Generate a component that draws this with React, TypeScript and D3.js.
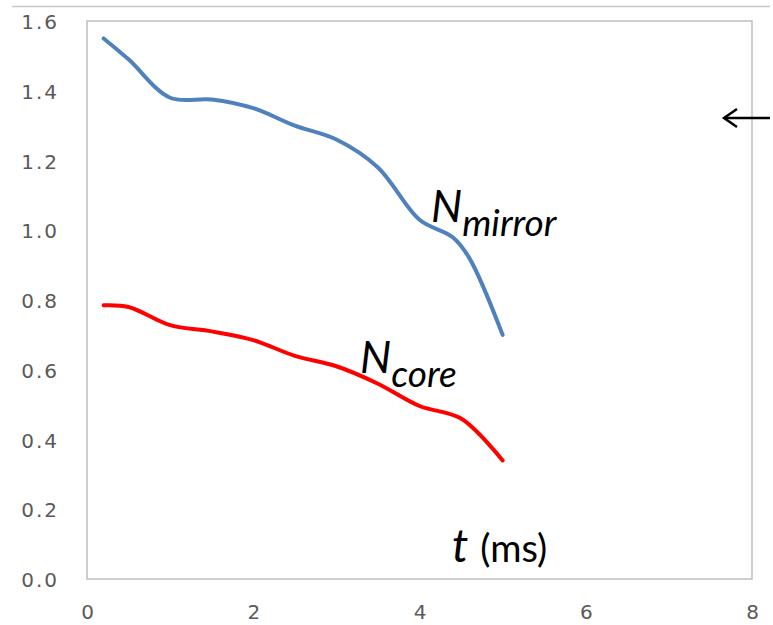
import React, { useEffect, useRef } from "react";
import * as d3 from "d3";

const mirrorT = [0.2, 0.5, 1.0, 1.5, 2.0, 2.5, 3.0, 3.5, 4.0, 4.4, 4.6, 5.0];
const mirrorN = [1.55, 1.49, 1.38, 1.375, 1.35, 1.30, 1.26, 1.18, 1.03, 0.98, 0.92, 0.70];
const coreT = [0.2, 0.5, 1.0, 1.5, 2.0, 2.5, 3.0, 3.5, 4.0, 4.5, 5.0];
const coreN = [0.785, 0.78, 0.728, 0.71, 0.685, 0.64, 0.61, 0.56, 0.496, 0.46, 0.34];
const xTicks = [0, 2, 4, 6, 8];
const yTicks = [0, 0.2, 0.4, 0.6, 0.8, 1.0, 1.2, 1.4, 1.6];

export default function App() {
  const ref = useRef<SVGSVGElement>(null);
  useEffect(() => {
    const svg = d3.select(ref.current);
    svg.selectAll("*").remove();
    const L = 87, R = 752, T = 21, B = 579;
    const x = d3.scaleLinear().domain([0, 8]).range([L, R]);
    const y = d3.scaleLinear().domain([0, 1.6]).range([B, T]);

    svg.append("line").attr("x1", 12).attr("x2", 770).attr("y1", 6.5).attr("y2", 6.5)
      .attr("stroke", "#c8c8c8").attr("stroke-width", 1.5);

    svg.append("rect").attr("x", L).attr("y", T).attr("width", R - L).attr("height", B - T)
      .attr("fill", "none").attr("stroke", "#bfbfbf").attr("stroke-width", 1.5);

    const yAxis = svg.append("g").attr("transform", `translate(${L - 28},0)`)
      .call(d3.axisLeft(y).tickValues(yTicks).tickSize(0).tickPadding(0).tickFormat(d3.format(".1f")));
    yAxis.select(".domain").remove();
    yAxis.selectAll("text").attr("font-family", "DejaVu Sans").attr("font-size", 20).attr("dy", "0.38em")
      .attr("letter-spacing", 2).attr("fill", "#595959");

    const xAxis = svg.append("g").attr("transform", `translate(0,${B + 26})`)
      .call(d3.axisBottom(x).tickValues(xTicks).tickSize(0).tickPadding(0).tickFormat(d3.format("d")));
    xAxis.select(".domain").remove();
    xAxis.selectAll("text").attr("font-family", "DejaVu Sans").attr("font-size", 20).attr("fill", "#595959");

    const line = d3.line<[number, number]>().x(d => x(d[0])).y(d => y(d[1])).curve(d3.curveCatmullRom.alpha(0.5));
    svg.append("path").attr("d", line(mirrorT.map((t, i) => [t, mirrorN[i]]))!)
      .attr("fill", "none").attr("stroke", "#4f81bd").attr("stroke-width", 4).attr("stroke-linecap", "round");
    svg.append("path").attr("d", line(coreT.map((t, i) => [t, coreN[i]]))!)
      .attr("fill", "none").attr("stroke", "#ff0000").attr("stroke-width", 4).attr("stroke-linecap", "round");

    const lab = (xx: number, yy: number, main: string, sub: string) => {
      const t = svg.append("text").attr("x", xx).attr("y", yy).attr("font-family", "Lato").attr("font-style", "italic").attr("fill", "#000");
      t.append("tspan").attr("font-size", 44).text(main);
      t.append("tspan").attr("font-size", 37).attr("dy", 14).text(sub);
    };
    lab(431, 222, "N", "mirror");
    lab(360, 373, "N", "core");

    const tl = svg.append("text").attr("x", 452).attr("y", 562).attr("font-family", "Lato").attr("fill", "#000");
    tl.append("tspan").attr("font-size", 46).attr("font-style", "italic").text("t");
    tl.append("tspan").attr("font-size", 38).attr("dx", 12).text("(ms)");

    svg.append("line").attr("x1", 724).attr("x2", 770).attr("y1", 118).attr("y2", 118).attr("stroke", "#000").attr("stroke-width", 2.5);
    svg.append("path").attr("d", "M737,109 L724,118 L737,127").attr("fill", "none").attr("stroke", "#000").attr("stroke-width", 2.5);
  }, []);
  return (
    <svg ref={ref} width={773} height={625} style={{ position: "absolute", left: 0, top: 0, background: "#fff" }} />
  );
}
